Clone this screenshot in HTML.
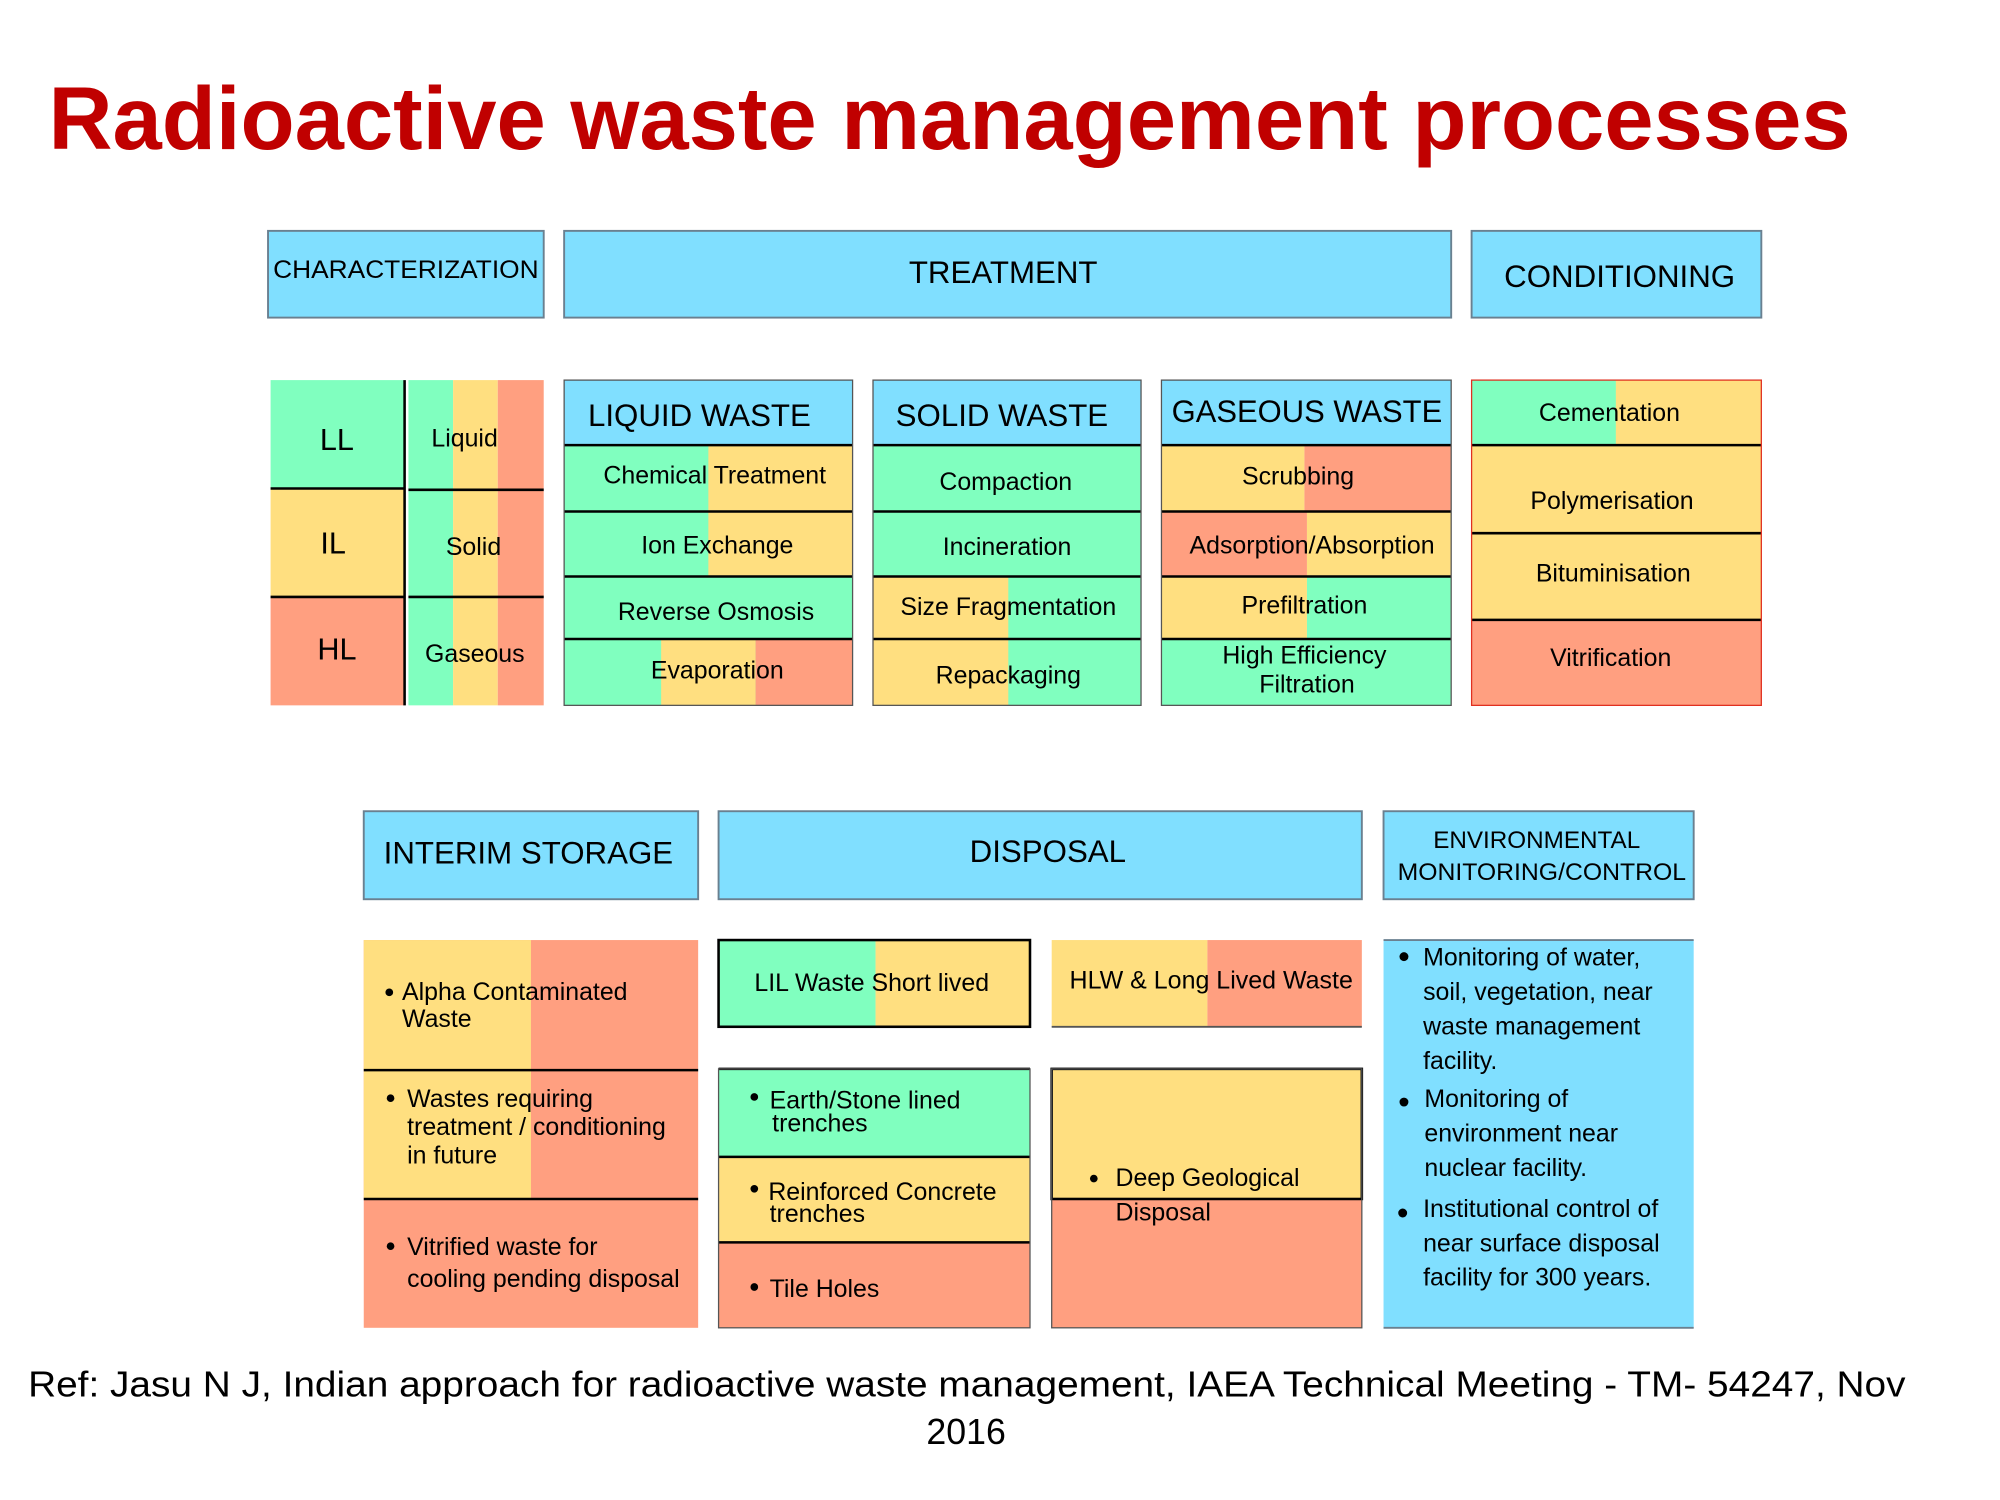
<!DOCTYPE html>
<html><head><meta charset="utf-8"><style>
html,body{margin:0;padding:0;background:#fff;}
svg{display:block}
text{font-family:"Liberation Sans",Arial,sans-serif;fill:#000}
</style></head><body>
<svg width="2000" height="1500" viewBox="0 0 1567 1176" preserveAspectRatio="none" xmlns="http://www.w3.org/2000/svg">
<defs>
<style>
.b{fill:#80dfff}.g{fill:#80ffbf}.y{fill:#ffdf80}.r{fill:#ff9f80}
.hd{stroke:#6a8090;stroke-width:1.5}
.t{font-size:19.5px;text-anchor:middle}
.h{font-size:24.5px;text-anchor:middle}
.l{font-size:19.5px}
</style>
</defs>
<text x="38" y="117" style="font-size:70px;font-weight:bold;fill:#c00000" textLength="1412" lengthAdjust="spacingAndGlyphs">Radioactive waste management processes</text>

<rect class="b hd" x="210" y="181" width="216" height="68"/>
<text x="318" y="218" style="font-size:19.5px;text-anchor:middle" textLength="208" lengthAdjust="spacingAndGlyphs">CHARACTERIZATION</text>
<rect class="b hd" x="442" y="181" width="695" height="68"/>
<text class="h" x="786" y="222">TREATMENT</text>
<rect class="b hd" x="1153" y="181" width="227" height="68"/>
<text class="h" x="1269" y="225">CONDITIONING</text>

<rect class="g" x="212" y="298" width="105" height="85"/>
<rect class="y" x="212" y="383" width="105" height="85"/>
<rect class="r" x="212" y="468" width="105" height="85"/>
<rect class="g" x="320" y="298" width="35" height="255"/>
<rect class="y" x="355" y="298" width="35" height="255"/>
<rect class="r" x="390" y="298" width="36" height="255"/>
<line x1="317" y1="298" x2="317" y2="553" stroke="#000" stroke-width="2"/>
<line x1="212" y1="383" x2="317" y2="383" stroke="#000" stroke-width="2"/>
<line x1="212" y1="468" x2="317" y2="468" stroke="#000" stroke-width="2"/>
<line x1="320" y1="384" x2="426" y2="384" stroke="#000" stroke-width="2"/>
<line x1="320" y1="468" x2="426" y2="468" stroke="#000" stroke-width="2"/>
<text x="264" y="353" style="font-size:24px;text-anchor:middle">LL</text>
<text x="261" y="434" style="font-size:24px;text-anchor:middle">IL</text>
<text x="264" y="517" style="font-size:24px;text-anchor:middle">HL</text>
<text class="t" x="364" y="350">Liquid</text>
<text class="t" x="371" y="435">Solid</text>
<text class="t" x="372" y="519">Gaseous</text>

<rect class="b" x="442" y="298" width="226" height="51"/>
<rect class="g" x="442" y="349" width="226" height="204"/>
<rect class="y" x="555" y="349" width="113" height="103"/>
<rect class="y" x="518" y="501" width="74" height="52"/>
<rect class="r" x="592" y="501" width="76" height="52"/>
<g stroke="#000" stroke-width="2"><line x1="442" y1="349" x2="668" y2="349"/><line x1="442" y1="401" x2="668" y2="401"/><line x1="442" y1="452" x2="668" y2="452"/><line x1="442" y1="501" x2="668" y2="501"/></g>
<rect x="442" y="298" width="226" height="255" fill="none" stroke="#555" stroke-width="1"/>
<text class="h" x="548" y="334">LIQUID WASTE</text>
<text class="t" x="560" y="379">Chemical Treatment</text>
<text class="t" x="562" y="434">Ion Exchange</text>
<text class="t" x="561" y="486">Reverse Osmosis</text>
<text class="t" x="562" y="532">Evaporation</text>

<rect class="b" x="684" y="298" width="210" height="51"/>
<rect class="g" x="684" y="349" width="210" height="204"/>
<rect class="y" x="684" y="452" width="106" height="101"/>
<g stroke="#000" stroke-width="2"><line x1="684" y1="349" x2="894" y2="349"/><line x1="684" y1="401" x2="894" y2="401"/><line x1="684" y1="452" x2="894" y2="452"/><line x1="684" y1="501" x2="894" y2="501"/></g>
<rect x="684" y="298" width="210" height="255" fill="none" stroke="#555" stroke-width="1"/>
<text class="h" x="785" y="334">SOLID WASTE</text>
<text class="t" x="788" y="384">Compaction</text>
<text class="t" x="789" y="435">Incineration</text>
<text class="t" x="790" y="482">Size Fragmentation</text>
<text class="t" x="790" y="536">Repackaging</text>

<rect class="b" x="910" y="298" width="227" height="51"/>
<rect class="y" x="910" y="349" width="112" height="52"/>
<rect class="r" x="1022" y="349" width="115" height="52"/>
<rect class="r" x="910" y="401" width="114" height="51"/>
<rect class="y" x="1024" y="401" width="113" height="51"/>
<rect class="y" x="910" y="452" width="114" height="49"/>
<rect class="g" x="1024" y="452" width="113" height="49"/>
<rect class="g" x="910" y="501" width="227" height="52"/>
<g stroke="#000" stroke-width="2"><line x1="910" y1="349" x2="1137" y2="349"/><line x1="910" y1="401" x2="1137" y2="401"/><line x1="910" y1="452" x2="1137" y2="452"/><line x1="910" y1="501" x2="1137" y2="501"/></g>
<rect x="910" y="298" width="227" height="255" fill="none" stroke="#555" stroke-width="1"/>
<text class="h" x="1024" y="331" textLength="212" lengthAdjust="spacingAndGlyphs">GASEOUS WASTE</text>
<text class="t" x="1017" y="380">Scrubbing</text>
<text class="t" x="1028" y="434" textLength="192" lengthAdjust="spacingAndGlyphs">Adsorption/Absorption</text>
<text class="t" x="1022" y="481">Prefiltration</text>
<text class="t" x="1022" y="520">High Efficiency</text>
<text class="t" x="1024" y="543">Filtration</text>

<rect class="y" x="1153" y="298" width="227" height="255"/>
<rect class="g" x="1153" y="298" width="113" height="51"/>
<rect class="r" x="1153" y="486" width="227" height="67"/>
<g stroke="#000" stroke-width="2"><line x1="1153" y1="349" x2="1380" y2="349"/><line x1="1153" y1="418" x2="1380" y2="418"/><line x1="1153" y1="486" x2="1380" y2="486"/></g>
<rect x="1153" y="298" width="227" height="255" fill="none" stroke="#e03020" stroke-width="1"/>
<text class="t" x="1261" y="330">Cementation</text>
<text class="t" x="1263" y="399">Polymerisation</text>
<text class="t" x="1264" y="456">Bituminisation</text>
<text class="t" x="1262" y="522">Vitrification</text>

<rect class="b hd" x="285" y="636" width="262" height="69"/>
<text class="h" x="414" y="677">INTERIM STORAGE</text>
<rect class="b hd" x="563" y="636" width="504" height="69"/>
<text class="h" x="821" y="676">DISPOSAL</text>
<rect class="b hd" x="1084" y="636" width="243" height="69"/>
<text x="1204" y="665" style="font-size:19px;text-anchor:middle">ENVIRONMENTAL</text>
<text x="1208" y="690" style="font-size:19px;text-anchor:middle" textLength="226" lengthAdjust="spacingAndGlyphs">MONITORING/CONTROL</text>

<rect class="r" x="285" y="737" width="262" height="304"/>
<rect class="y" x="285" y="737" width="131" height="203"/>
<g stroke="#000" stroke-width="2"><line x1="285" y1="839" x2="547" y2="839"/><line x1="285" y1="940" x2="547" y2="940"/></g>
<circle cx="305" cy="778" r="3"/>
<text class="l" x="315" y="784">Alpha Contaminated</text>
<text class="l" x="315" y="805">Waste</text>
<circle cx="306" cy="861" r="3"/>
<text class="l" x="319" y="868">Wastes requiring</text>
<text class="l" x="319" y="890">treatment / conditioning</text>
<text class="l" x="319" y="912">in future</text>
<circle cx="306" cy="977" r="3"/>
<text class="l" x="319" y="984">Vitrified waste for</text>
<text class="l" x="319" y="1009">cooling pending disposal</text>

<rect class="g" x="563" y="737" width="123" height="68"/>
<rect class="y" x="686" y="737" width="121" height="68"/>
<rect x="563" y="737" width="244" height="68" fill="none" stroke="#000" stroke-width="2"/>
<text class="t" x="683" y="777">LIL Waste Short lived</text>
<rect class="y" x="824" y="737" width="122" height="68"/>
<rect class="r" x="946" y="737" width="121" height="68"/>
<line x1="824" y1="805" x2="1067" y2="805" stroke="#555" stroke-width="1.5"/>
<text class="t" x="949" y="775" textLength="222" lengthAdjust="spacingAndGlyphs">HLW &amp; Long Lived Waste</text>

<rect class="g" x="563" y="838" width="244" height="69"/>
<rect class="y" x="563" y="907" width="244" height="67"/>
<rect class="r" x="563" y="974" width="244" height="67"/>
<g stroke="#000" stroke-width="2"><line x1="563" y1="838" x2="807" y2="838"/><line x1="563" y1="907" x2="807" y2="907"/><line x1="563" y1="974" x2="807" y2="974"/></g>
<rect x="563" y="838" width="244" height="203" fill="none" stroke="#555" stroke-width="1"/>
<circle cx="591" cy="860" r="3"/>
<text class="l" x="603" y="869">Earth/Stone lined</text>
<text class="l" x="605" y="887">trenches</text>
<circle cx="591" cy="932" r="3"/>
<text class="l" x="602" y="941">Reinforced Concrete</text>
<text class="l" x="603" y="958">trenches</text>
<circle cx="591" cy="1009" r="3"/>
<text class="l" x="603" y="1017">Tile Holes</text>

<rect class="y" x="824" y="838" width="243" height="102"/>
<rect class="r" x="824" y="940" width="243" height="101"/>
<rect x="824" y="838" width="243" height="102" fill="none" stroke="#000" stroke-width="2"/>
<rect x="824" y="838" width="243" height="203" fill="none" stroke="#555" stroke-width="1"/>
<circle cx="857" cy="924" r="3"/>
<text class="l" x="874" y="930">Deep Geological</text>
<text class="l" x="874" y="957">Disposal</text>

<rect class="b" x="1084" y="737" width="243" height="304"/>
<line x1="1084" y1="737" x2="1327" y2="737" stroke="#6a8090" stroke-width="1.5"/>
<line x1="1084" y1="1041" x2="1327" y2="1041" stroke="#6a8090" stroke-width="1.5"/>
<circle cx="1100" cy="750" r="3.5"/>
<text class="l" x="1115" y="757">Monitoring of water,</text>
<text class="l" x="1115" y="784">soil, vegetation, near</text>
<text class="l" x="1115" y="811">waste management</text>
<text class="l" x="1115" y="838">facility.</text>
<circle cx="1100" cy="864" r="3.5"/>
<text class="l" x="1116" y="868">Monitoring of</text>
<text class="l" x="1116" y="895">environment near</text>
<text class="l" x="1116" y="922">nuclear facility.</text>
<circle cx="1099" cy="951" r="3.5"/>
<text class="l" x="1115" y="954">Institutional control of</text>
<text class="l" x="1115" y="981">near surface disposal</text>
<text class="l" x="1115" y="1008">facility for 300 years.</text>

<text x="22" y="1095" style="font-size:28px" textLength="1471" lengthAdjust="spacingAndGlyphs">Ref: Jasu N J, Indian approach for radioactive waste management, IAEA Technical Meeting - TM- 54247, Nov</text>
<text x="757" y="1132" style="font-size:28px;text-anchor:middle">2016</text>
</svg>
</body></html>
